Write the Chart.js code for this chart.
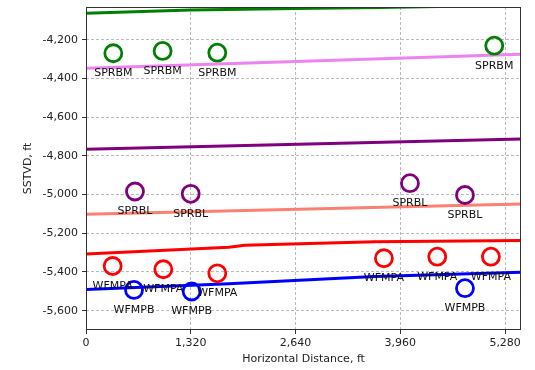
<!DOCTYPE html>
<html lang="en">
<head>
    <meta charset="UTF-8">
    <title>SSTVD vs Horizontal Distance</title>
    <script src="https://cdn.jsdelivr.net/npm/chart.js"></script>
    <style>
        body { margin: 0; background: #fff; }
        #wrap { width: 535px; height: 370px; }
    </style>
</head>
<body>
    <div id="wrap">
        <canvas id="sectionChart" width="535" height="370"></canvas>
    </div>

    <script>
        // Horizon surfaces (distance ft, SSTVD ft)
        const greenX  = [0, 1320, 2640, 3700, 5480];
        const greenY  = [-4062, -4045, -4038, -4033, -4020];
        const violetX = [0, 5480];
        const violetY = [-4347, -4274];
        const purpleX = [0, 5480];
        const purpleY = [-4766, -4713];
        const salmonX = [0, 5480];
        const salmonY = [-5102, -5048];
        const redX    = [0, 1800, 2000, 3640, 5480];
        const redY    = [-5307, -5272, -5262, -5244, -5237];
        const blueX   = [0, 1800, 3640, 5480];
        const blueY   = [-5490, -5461, -5423, -5402];

        // Formation picks
        const sprbmX = [344, 965, 1654, 5143];
        const sprbmY = [-4269, -4257, -4266, -4230];
        const sprblX = [617, 1319, 4081, 4774];
        const sprblY = [-4984, -4996, -4941, -5002];
        const wfmpaX = [336, 974, 1654, 3753, 4425, 5101];
        const wfmpaY = [-5369, -5386, -5407, -5329, -5321, -5321];
        const wfmpbX = [605, 1331, 4774];
        const wfmpbY = [-5493, -5501, -5484];

        // Axis ticks
        const xTicks = [0, 1320, 2640, 3960, 5280];
        const yTicks = [-4200, -4400, -4600, -4800, -5000, -5200, -5400, -5600];

        const FONT = 'DejaVu Sans';

        function pts(xs, ys) {
            return xs.map((x, i) => ({ x: x, y: ys[i] }));
        }

        function lineSet(xs, ys, color) {
            return {
                type: 'scatter',
                data: pts(xs, ys),
                showLine: true,
                borderColor: color,
                borderWidth: 3,
                pointRadius: 0,
                fill: false,
                clip: 0,
                order: 2
            };
        }

        function pickSet(xs, ys, color, name) {
            return {
                type: 'scatter',
                data: pts(xs, ys),
                pickName: name,
                showLine: false,
                pointStyle: 'circle',
                pointRadius: 8.5,
                pointBorderWidth: 2.8,
                pointBorderColor: color,
                pointBackgroundColor: 'rgba(0,0,0,0)',
                borderColor: color,
                backgroundColor: 'rgba(0,0,0,0)',
                order: 1
            };
        }

        // keep the plot box at a fixed place: no extra room for edge labels
        function noPad(scale) {
            scale.paddingTop = 0;
            scale.paddingBottom = 0;
            scale.paddingLeft = 0;
            scale.paddingRight = 0;
        }

        // axes frame + text under each pick
        const annotate = {
            id: 'annotate',
            afterDatasetsDraw(chart) {
                const ctx = chart.ctx;
                const a = chart.chartArea;
                ctx.save();
                ctx.strokeStyle = '#333';
                ctx.lineWidth = 1;
                ctx.strokeRect(a.left + 0.5, a.top + 0.5, a.right - a.left - 1, a.bottom - a.top - 1);

                ctx.fillStyle = '#111';
                ctx.font = '11px "' + FONT + '"';
                ctx.textAlign = 'center';
                ctx.textBaseline = 'middle';
                chart.data.datasets.forEach(ds => {
                    if (!ds.pickName) return;
                    ds.data.forEach(p => {
                        const px = chart.scales.x.getPixelForValue(p.x);
                        const py = chart.scales.y.getPixelForValue(p.y);
                        ctx.fillText(ds.pickName, px, py + 20);
                    });
                });
                ctx.restore();
            }
        };

        const gridStyle = {
            color: '#a8a8a8',
            lineWidth: 0.8,
            tickColor: '#333',
            tickLength: 4,
            tickBorderDash: [],
            tickWidth: 1
        };

        const ctx = document.getElementById('sectionChart').getContext('2d');
        new Chart(ctx, {
            type: 'scatter',
            data: {
                datasets: [
                    lineSet(greenX, greenY, '#008000'),
                    lineSet(violetX, violetY, '#ee82ee'),
                    lineSet(purpleX, purpleY, '#800080'),
                    lineSet(salmonX, salmonY, '#fa8072'),
                    lineSet(redX, redY, '#ff0000'),
                    lineSet(blueX, blueY, '#0000ff'),
                    pickSet(sprbmX, sprbmY, '#008000', 'SPRBM'),
                    pickSet(sprblX, sprblY, '#800080', 'SPRBL'),
                    pickSet(wfmpaX, wfmpaY, '#ff0000', 'WFMPA'),
                    pickSet(wfmpbX, wfmpbY, '#0000ff', 'WFMPB')
                ]
            },
            options: {
                responsive: false,
                animation: false,
                devicePixelRatio: 1,
                layout: {
                    autoPadding: false,
                    padding: { left: 0, right: 14, top: 7, bottom: 0 }
                },
                plugins: {
                    legend: { display: false },
                    tooltip: { enabled: false }
                },
                scales: {
                    x: {
                        type: 'linear',
                        min: 0,
                        max: 5480,
                        afterFit(scale) { scale.height = 40; noPad(scale); },
                        afterBuildTicks(scale) { scale.ticks = xTicks.map(v => ({ value: v })); },
                        grid: gridStyle,
                        border: { display: false, dash: [3, 2] },
                        ticks: {
                            color: '#222',
                            padding: 3,
                            maxRotation: 0,
                            font: { family: FONT, size: 11 },
                            callback: v => v.toLocaleString('en-US')
                        },
                        title: {
                            display: true,
                            text: 'Horizontal Distance, ft',
                            color: '#222',
                            font: { family: FONT, size: 11 },
                            padding: { top: 0, bottom: 4 }
                        }
                    },
                    y: {
                        type: 'linear',
                        min: -5700,
                        max: -4030,
                        afterFit(scale) { scale.width = 86; noPad(scale); },
                        afterBuildTicks(scale) { scale.ticks = yTicks.map(v => ({ value: v })); },
                        grid: gridStyle,
                        border: { display: false, dash: [3, 2] },
                        ticks: {
                            color: '#222',
                            padding: 4,
                            font: { family: FONT, size: 11 },
                            callback: v => v.toLocaleString('en-US')
                        },
                        title: {
                            display: true,
                            text: 'SSTVD, ft',
                            color: '#222',
                            font: { family: FONT, size: 11 },
                            padding: { top: 22, bottom: 0 }
                        }
                    }
                }
            },
            plugins: [annotate]
        });
    </script>
</body>
</html>
